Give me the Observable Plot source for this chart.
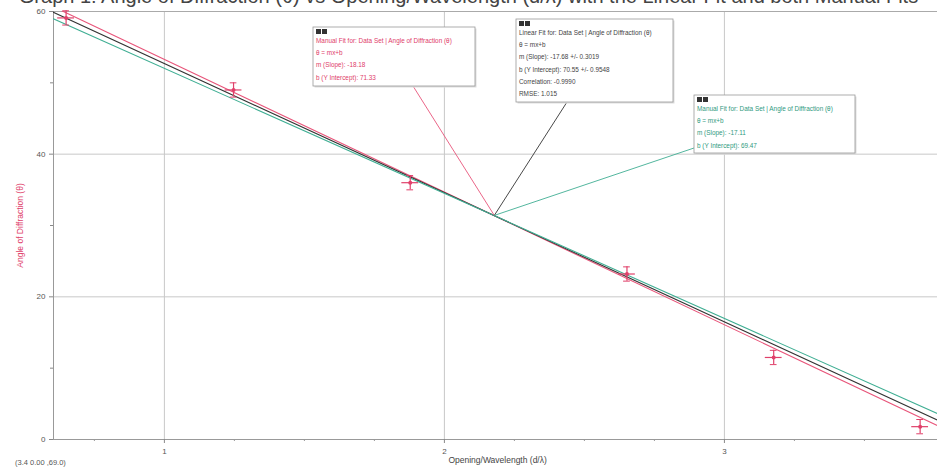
<!DOCTYPE html>
<html><head><meta charset="utf-8">
<script src="https://cdn.jsdelivr.net/npm/d3@7"></script>
<script src="https://cdn.jsdelivr.net/npm/@observablehq/plot@0.6"></script>
<style>
body{margin:0;background:#fff;font-family:"Liberation Sans",Arial,sans-serif;}
#chart svg{display:block;}
</style></head><body><div id="chart"></div>
<script>
// ---- data ----
const ratio = [0.649, 1.247, 1.878, 2.652, 3.176, 3.699];
const angle = [59.1, 49.0, 36.0, 23.2, 11.5, 1.8];
const ratioErr = [0.03, 0.03, 0.03, 0.03, 0.03, 0.03];
const angleErr = [1.0, 1.0, 1.0, 1.0, 1.0, 1.0];
const fitKinds = ["Manual Fit", "Linear Fit", "Manual Fit"];
// lines as drawn in the picture (slope, intercept)
const fitSlopes = [-18.6, -18.1, -17.53];
const fitIntercepts = [71.89, 70.8, 69.56];
// values printed in the annotation boxes
const fitSlopeText = ["-18.18", "-17.68 +/- 0.3019", "-17.11"];
const fitInterceptText = ["71.33", "70.55 +/- 0.9548", "69.47"];
const yTicks = [0, 20, 40, 60];
const xTicks = [1, 2, 3];
const titleText = "Graph 1: Angle of Diffraction (θ) vs Opening/Wavelength (d/λ) with the Linear Fit and both Manual Fits";
const xLabel = "Opening/Wavelength (d/λ)";
const yLabel = "Angle of Diffraction (θ)";
const statusText = "(3.4 0.00 ,69.0)";

// ---- styles ----
const fitColors = ["#e8557a", "#333333", "#3fae93"];
const textColors = ["#e0406a", "#444444", "#2f9a80"];
const W = 937, H = 469;
const xDomain = [0.604, 3.761];
const capW = 0.012;

const pts = ratio.map((r, i) => ({r, a: angle[i], re: ratioErr[i], ae: angleErr[i]}));
const caps = pts.flatMap(d => [{r: d.r, a: d.a + d.ae}, {r: d.r, a: d.a - d.ae}]);
const fitLines = [];
fitSlopes.forEach((m, k) => {
  [0.4, 4.0].forEach(x => fitLines.push({k, x, y: fitIntercepts[k] + m * x}));
});

const plot = Plot.plot({
  width: W, height: H,
  marginLeft: 53, marginRight: 0, marginTop: 11, marginBottom: 30,
  style: {fontFamily: "Liberation Sans, Arial, sans-serif", fontSize: "8px", color: "#555"},
  x: {domain: xDomain},
  y: {domain: [0, 60]},
  marks: [
    Plot.gridX(xTicks, {stroke: "#c8c8c8", strokeOpacity: 1}),
    Plot.gridY([20, 40], {stroke: "#c8c8c8", strokeOpacity: 1}),
    Plot.ruleY([60], {stroke: "#aaa"}),
    Plot.ruleY([0], {stroke: "#999"}),
    Plot.ruleX([xDomain[0]], {stroke: "#999"}),
    Plot.axisY(yTicks, {tickSize: 4, tickPadding: 4, fontSize: 8, fill: "#555", stroke: "#888", label: null}),
    Plot.axisY([10, 30, 50], {tickSize: 3, text: null, stroke: "#888", label: null}),
    Plot.axisX(xTicks, {tickSize: 4, tickPadding: 5, fontSize: 8, fill: "#555", stroke: "#888", label: null, tickFormat: d => String(d)}),
    Plot.axisX([0.75, 1.25, 1.5, 1.75, 2.25, 2.5, 2.75, 3.25, 3.5], {tickSize: 2, text: null, stroke: "#999", label: null}),
    Plot.line(fitLines, {x: "x", y: "y", z: "k", stroke: d => fitColors[d.k], strokeWidth: 1.1, clip: true}),
    Plot.ruleX(pts, {x: "r", y1: d => d.a - d.ae, y2: d => d.a + d.ae, stroke: "#e0406a", strokeWidth: 1.2}),
    Plot.ruleY(pts, {y: "a", x1: d => d.r - d.re, x2: d => d.r + d.re, stroke: "#e0406a", strokeWidth: 1.2}),
    Plot.ruleY(caps, {y: "a", x1: d => d.r - capW, x2: d => d.r + capW, stroke: "#e0406a", strokeWidth: 1}),
    Plot.dot(pts, {x: "r", y: "a", r: 2, fill: "#e0406a"}),
    Plot.text([yLabel], {frameAnchor: "left", textAnchor: "middle", rotate: -90, dx: -33, fill: "#e0406a", fontSize: 8.5}),
    Plot.text([xLabel], {x: [2.19], frameAnchor: "bottom", dy: 23, fill: "#444", fontSize: 8.5})
  ]
});
document.getElementById("chart").appendChild(plot);

const sx = plot.scale("x"), sy = plot.scale("y");
const svg = d3.select(plot);

svg.append("text").attr("x", W / 2).attr("y", 3).attr("text-anchor", "middle")
  .attr("font-size", 20).attr("fill", "#444").text(titleText);
svg.append("text").attr("x", 15).attr("y", 465).attr("text-anchor", "start")
  .attr("font-size", 7.5).attr("fill", "#555").text(statusText);

const cx = sx.apply(2.18), cy = sy.apply(fitIntercepts[1] + fitSlopes[1] * 2.18);
const boxes = [
  {k: 0, x: 313, y: 27, w: 162, h: 59, px: 413, py: 86},
  {k: 1, x: 516, y: 19, w: 157, h: 83, px: 567, py: 102},
  {k: 2, x: 694, y: 95, w: 161, h: 58, px: 694, py: 148}
];
boxes.forEach(b => {
  const k = b.k;
  svg.append("line").attr("x1", b.px).attr("y1", b.py).attr("x2", cx).attr("y2", cy)
    .attr("stroke", fitColors[k]).attr("stroke-width", 0.9);
  svg.append("rect").attr("x", b.x + 1.5).attr("y", b.y + 1.5).attr("width", b.w).attr("height", b.h)
    .attr("fill", "#ddd");
  svg.append("rect").attr("x", b.x).attr("y", b.y).attr("width", b.w).attr("height", b.h)
    .attr("fill", "#fff").attr("stroke", "#999").attr("stroke-width", 0.8);
  svg.append("rect").attr("x", b.x + 3).attr("y", b.y + 2).attr("width", 5).attr("height", 5).attr("fill", "#333");
  svg.append("rect").attr("x", b.x + 9).attr("y", b.y + 2).attr("width", 5).attr("height", 5).attr("fill", "#333");
  const lines = [
    `${fitKinds[k]} for: Data Set | Angle of Diffraction (θ)`,
    "θ = mx+b",
    `m (Slope): ${fitSlopeText[k]}`,
    `b (Y Intercept): ${fitInterceptText[k]}`
  ];
  if (k === 1) { lines.push("Correlation: -0.9990", "RMSE: 1.015"); }
  lines.forEach((t, i) => {
    svg.append("text").attr("x", b.x + 3).attr("y", b.y + 16 + i * 12.2).attr("text-anchor", "start")
      .attr("font-size", 6.4).attr("fill", textColors[k]).text(t);
  });
});
</script>
</body></html>
